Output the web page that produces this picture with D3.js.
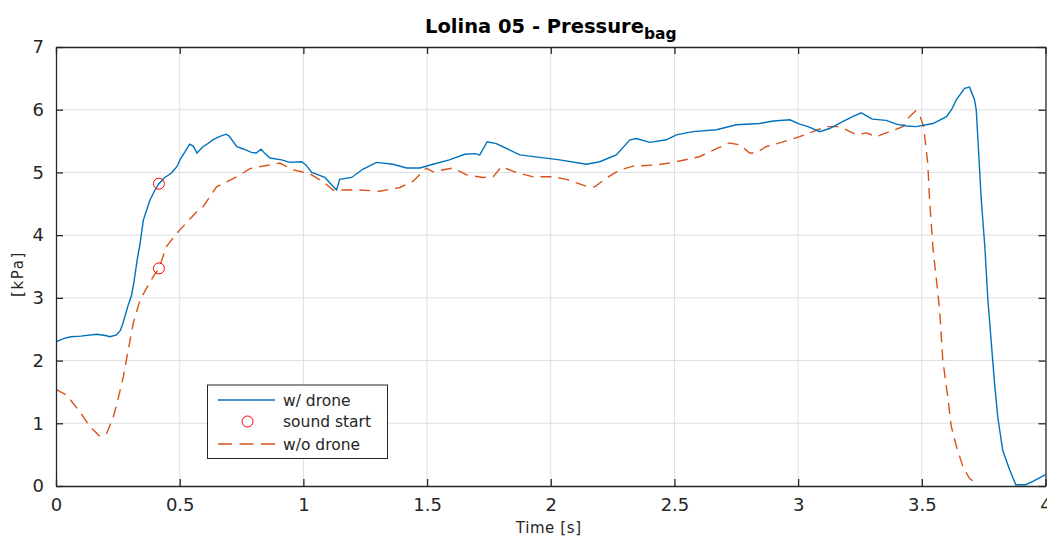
<!DOCTYPE html>
<html><head><meta charset="utf-8">
<script src="https://cdn.jsdelivr.net/npm/d3@7"></script>
<style>body{margin:0;background:#fff;} svg{display:block;font-family:"DejaVu Sans",sans-serif;}</style>
</head><body><svg id="c" width="1047" height="538"></svg>
<script>
const xTicks = [0,0.5,1,1.5,2,2.5,3,3.5,4];
const xTickLabels = ["0","0.5","1","1.5","2","2.5","3","3.5","4"];
const yTicks = [0,1,2,3,4,5,6,7];
const yTickLabels = ["0","1","2","3","4","5","6","7"];

const tDrone = [0,0.03,0.06,0.10,0.164,0.20,0.218,0.245,0.26,0.271,0.29,0.306,0.315,0.322,0.33,0.34,0.353,0.38,0.40,0.416,0.44,0.467,0.49,0.501,0.52,0.54,0.555,0.57,0.594,0.61,0.634,0.66,0.687,0.70,0.731,0.76,0.79,0.81,0.829,0.845,0.865,0.912,0.945,0.993,1.01,1.034,1.06,1.087,1.11,1.134,1.147,1.195,1.24,1.296,1.362,1.417,1.471,1.524,1.59,1.652,1.693,1.713,1.743,1.78,1.875,1.956,2.036,2.144,2.198,2.265,2.32,2.346,2.40,2.467,2.508,2.575,2.67,2.75,2.844,2.90,2.966,3.006,3.04,3.087,3.127,3.18,3.22,3.255,3.30,3.356,3.397,3.437,3.477,3.545,3.60,3.62,3.64,3.673,3.693,3.713,3.72,3.73,3.74,3.755,3.767,3.78,3.794,3.807,3.827,3.855,3.88,3.92,3.947,4.0];
const pDrone = [2.30,2.35,2.38,2.39,2.42,2.40,2.38,2.41,2.48,2.60,2.86,3.05,3.25,3.44,3.65,3.87,4.24,4.56,4.72,4.82,4.92,4.99,5.10,5.20,5.32,5.45,5.42,5.31,5.41,5.45,5.52,5.57,5.61,5.58,5.41,5.37,5.32,5.31,5.37,5.30,5.23,5.20,5.16,5.17,5.12,5.00,4.96,4.92,4.82,4.72,4.89,4.92,5.05,5.16,5.13,5.07,5.07,5.13,5.20,5.29,5.30,5.28,5.49,5.46,5.28,5.24,5.20,5.13,5.17,5.28,5.52,5.54,5.48,5.52,5.60,5.65,5.68,5.76,5.78,5.82,5.84,5.77,5.73,5.65,5.70,5.81,5.89,5.95,5.85,5.83,5.77,5.74,5.73,5.78,5.89,6.00,6.16,6.34,6.36,6.16,6.00,5.30,4.59,3.80,2.97,2.33,1.64,1.10,0.57,0.26,0.02,0.02,0.07,0.18];

const tNoDrone = [0,0.043,0.097,0.137,0.178,0.205,0.23,0.25,0.272,0.292,0.312,0.34,0.366,0.393,0.416,0.447,0.488,0.568,0.594,0.649,0.73,0.784,0.85,0.905,0.959,1.026,1.08,1.12,1.228,1.309,1.39,1.444,1.497,1.524,1.605,1.66,1.726,1.767,1.80,1.86,1.928,2.01,2.063,2.144,2.178,2.225,2.279,2.333,2.427,2.494,2.60,2.67,2.723,2.764,2.804,2.83,2.87,2.925,3.006,3.06,3.114,3.168,3.236,3.276,3.316,3.356,3.397,3.423,3.45,3.475,3.491,3.507,3.515,3.524,3.531,3.545,3.572,3.585,3.605,3.619,3.64,3.666,3.693,3.727];
const pNoDrone = [1.54,1.45,1.18,0.95,0.79,0.84,1.08,1.37,1.74,2.17,2.59,2.97,3.15,3.34,3.47,3.82,4.03,4.37,4.45,4.77,4.93,5.06,5.11,5.15,5.04,4.98,4.85,4.72,4.72,4.70,4.76,4.86,5.07,5.01,5.07,4.96,4.92,4.93,5.09,5.00,4.93,4.93,4.89,4.78,4.77,4.91,5.04,5.10,5.12,5.16,5.25,5.38,5.47,5.44,5.31,5.31,5.41,5.47,5.57,5.65,5.73,5.73,5.60,5.63,5.57,5.63,5.69,5.73,5.89,5.98,5.92,5.73,5.46,5.15,4.59,3.80,2.81,2.00,1.42,0.95,0.63,0.31,0.12,0.02];

const tSound = [0.416,0.416];
const pSound = [4.82,3.47];

const legendLabels = ["w/ drone","sound start","w/o drone"];

const svg = d3.select("#c");
const L=56, R=1045.5, T=47, B=486;
const x = d3.scaleLinear().domain([0,4]).range([L,R]);
const y = d3.scaleLinear().domain([0,7]).range([B,T]);
const axisColor="#262626";

// grid
const g = svg.append("g");
g.selectAll("line.gx").data(xTicks.slice(1,-1)).join("line")
  .attr("x1",d=>x(d)).attr("x2",d=>x(d)).attr("y1",T).attr("y2",B)
  .attr("stroke","#dfdfdf").attr("stroke-width",1);
g.selectAll("line.gy").data(yTicks.slice(1,-1)).join("line")
  .attr("y1",d=>y(d)).attr("y2",d=>y(d)).attr("x1",L).attr("x2",R)
  .attr("stroke","#dfdfdf").attr("stroke-width",1);

// data lines
const clip = svg.append("clipPath").attr("id","pc").append("rect")
  .attr("x",L).attr("y",T).attr("width",R-L).attr("height",B-T);
const line = d3.line().x(d=>x(d[0])).y(d=>y(d[1]));
const droneData = d3.zip(tDrone,pDrone);
const noDroneData = d3.zip(tNoDrone,pNoDrone);
const plot = svg.append("g").attr("clip-path","url(#pc)");
plot.append("path").datum(noDroneData).attr("d",line)
  .attr("fill","none").attr("stroke","#D95319").attr("stroke-width",1.4)
  .attr("stroke-dasharray","11,7");
plot.append("path").datum(droneData).attr("d",line)
  .attr("fill","none").attr("stroke","#0072BD").attr("stroke-width",1.4);
plot.selectAll("circle").data(d3.zip(tSound,pSound)).join("circle")
  .attr("cx",d=>x(d[0])).attr("cy",d=>y(d[1])).attr("r",5.5)
  .attr("fill","none").attr("stroke","#FF0000").attr("stroke-width",1);

// axes
const tl=7;
const axB = d3.axisBottom(x).tickValues(xTicks).tickFormat((d,i)=>xTickLabels[i]).tickSizeInner(-tl).tickSizeOuter(0).tickPadding(12);
const axT = d3.axisTop(x).tickValues(xTicks).tickFormat("").tickSizeInner(-tl).tickSizeOuter(0);
const axL = d3.axisLeft(y).tickValues(yTicks).tickFormat((d,i)=>yTickLabels[i]).tickSizeInner(-tl).tickSizeOuter(0).tickPadding(12);
const axR = d3.axisRight(y).tickValues(yTicks).tickFormat("").tickSizeInner(-tl).tickSizeOuter(0);
function style(sel){
  sel.select(".domain").attr("stroke",axisColor).attr("stroke-width",1.3);
  sel.selectAll(".tick line").attr("stroke",axisColor).attr("stroke-width",1.3);
  sel.selectAll(".tick text").attr("fill",axisColor).style("font-size","18px").style("font-family","DejaVu Sans");
}
svg.append("g").attr("transform",`translate(0,${B})`).call(axB).call(style);
svg.append("g").attr("transform",`translate(0,${T})`).call(axT).call(style);
svg.append("g").attr("transform",`translate(${L},0)`).call(axL).call(style);
svg.append("g").attr("transform",`translate(${R},0)`).call(axR).call(style);

// labels
svg.append("text").attr("x",(L+R)/2-2).attr("y",533).attr("text-anchor","middle")
  .attr("fill",axisColor).style("font-size","15px").style("letter-spacing","0.6px").text("Time [s]");
svg.append("text").attr("transform","translate(23,274) rotate(-90)").attr("text-anchor","middle")
  .attr("fill",axisColor).style("font-size","15px").style("letter-spacing","1.6px").text("[kPa]");
const title = svg.append("text").attr("x",(L+R)/2).attr("y",33).attr("text-anchor","middle")
  .attr("fill","#000").style("font-size","19.5px").style("font-weight","bold");
title.append("tspan").text("Lolina 05 - Pressure");
title.append("tspan").attr("dy",6).style("font-size","15.5px").text("bag");

// legend
const lg = svg.append("g");
lg.append("rect").attr("x",207.5).attr("y",385).attr("width",180).attr("height",73.5)
  .attr("fill","#fff").attr("stroke",axisColor).attr("stroke-width",1);
const rows=[400,421.5,444];
lg.append("line").attr("x1",218).attr("x2",275).attr("y1",rows[0]).attr("y2",rows[0])
  .attr("stroke","#0072BD").attr("stroke-width",1.4);
lg.append("circle").attr("cx",247.5).attr("cy",rows[1]).attr("r",5.5)
  .attr("fill","none").attr("stroke","#FF0000").attr("stroke-width",1);
lg.append("line").attr("x1",218).attr("x2",275).attr("y1",rows[2]).attr("y2",rows[2])
  .attr("stroke","#D95319").attr("stroke-width",1.4).attr("stroke-dasharray","14,7.5");
lg.selectAll("text.l").data(legendLabels).join("text")
  .attr("x",283).attr("y",(d,i)=>rows[i]+5.5).attr("fill",axisColor)
  .style("font-size","15.5px").text(d=>d);
</script></body></html>
